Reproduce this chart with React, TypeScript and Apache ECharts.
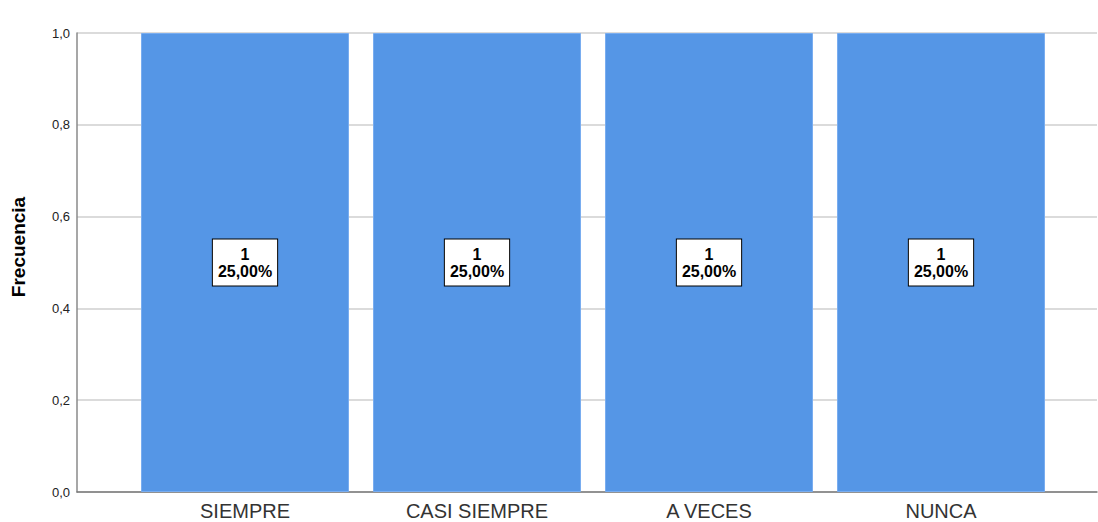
import React, { useEffect, useRef } from "react";
import * as echarts from "echarts";

const categories = ["SIEMPRE", "CASI SIEMPRE", "A VECES", "NUNCA"];
const counts = [1, 1, 1, 1];
const percents = ["25,00%", "25,00%", "25,00%", "25,00%"];
const yTicks = { min: 0, max: 1, interval: 0.2 };

export default function App() {
  const ref = useRef<HTMLDivElement>(null);
  useEffect(() => {
    if (!ref.current) return;
    const chart = echarts.init(ref.current, null, { renderer: "svg" });
    const fontFamily = "'Liberation Sans', Arial, sans-serif";
    chart.setOption({
      animation: false,
      textStyle: { fontFamily },
      grid: [
        { left: 77, right: 1, top: 33, bottom: 30 },
        { left: 129, right: 41, top: 33, bottom: 30 },
      ],
      xAxis: [
        {
          gridIndex: 0,
          type: "value",
          min: 0,
          max: 1,
          axisLine: { show: true, onZero: false, lineStyle: { color: "#7a7a7a", width: 1.5 } },
          axisTick: { show: false },
          axisLabel: { show: false },
          splitLine: { show: false },
        },
        {
          gridIndex: 1,
          type: "category",
          data: categories,
          axisLine: { show: false },
          axisTick: { show: false },
          axisLabel: { fontSize: 20, color: "#333", margin: 9, fontFamily },
        },
      ],
      yAxis: [
        {
          gridIndex: 0,
          type: "value",
          min: yTicks.min,
          max: yTicks.max,
          interval: yTicks.interval,
          axisLine: { show: true, lineStyle: { color: "#8a8a8a", width: 1.5 } },
          axisTick: { show: false },
          axisLabel: {
            fontSize: 13,
            color: "#222",
            margin: 7,
            formatter: (v: number) => v.toFixed(1).replace(".", ","),
          },
          splitLine: { show: true, lineStyle: { color: "#cfcfcf", width: 1.5 } },
        },
        {
          gridIndex: 1,
          type: "value",
          min: yTicks.min,
          max: yTicks.max,
          show: false,
        },
      ],
      series: [
        {
          type: "bar",
          xAxisIndex: 1,
          yAxisIndex: 1,
          data: counts,
          barWidth: 208,
          itemStyle: { color: "#5596e6", borderColor: "#79adf0", borderWidth: 1 },
          label: {
            show: true,
            position: "inside",
            formatter: (p: any) => `${counts[p.dataIndex]}\n${percents[p.dataIndex]}`,
            backgroundColor: "#ffffff",
            borderColor: "#000000",
            borderWidth: 1,
            padding: [6, 5, 6, 5],
            fontSize: 16,
            lineHeight: 17,
            fontWeight: "bold",
            color: "#000",
            align: "center",
            fontFamily,
          },
        },
      ],
      graphic: [
        {
          type: "text",
          x: 18,
          y: 247,
          rotation: Math.PI / 2,
          style: {
            text: "Frecuencia",
            fontSize: 19,
            fontWeight: "bold",
            fill: "#000",
            fontFamily,
            align: "center",
            verticalAlign: "middle",
          },
        },
      ],
    });
    return () => chart.dispose();
  }, []);
  return (
    <div
      ref={ref}
      style={{ position: "fixed", left: 0, top: 0, width: 1098, height: 522, background: "#fff" }}
    />
  );
}
